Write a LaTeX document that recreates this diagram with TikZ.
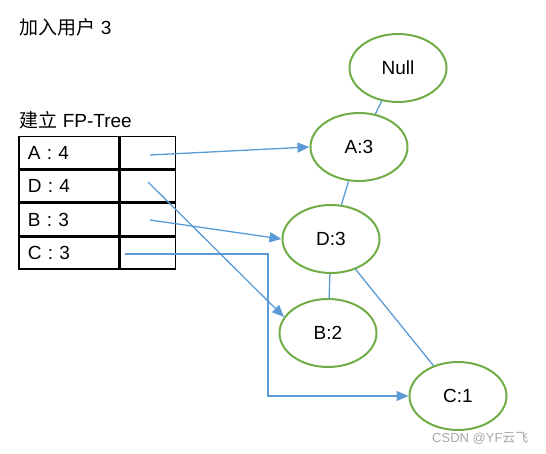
\documentclass[tikz,border=0pt]{standalone}
\usepackage{fontspec}
\setmainfont{Liberation Sans}
\newfontfamily\cjk{Noto Sans CJK SC}
\usetikzlibrary{shapes.geometric, arrows.meta, positioning}
\definecolor{treegreen}{HTML}{70AD47}
\definecolor{linkblue}{HTML}{5B9BD5}

\begin{document}
\begin{tikzpicture}[x=1pt, y=-1pt, font=\fontsize{19}{23}\selectfont,
    tree_node/.style={ellipse, draw=treegreen, line width=2pt, minimum width=97pt, minimum height=68pt, inner sep=0pt},
    cell_key/.style={draw, line width=1.5pt, minimum height=32pt, text width=82pt, inner xsep=9pt, inner ysep=0pt, align=left},
    cell_ptr/.style={draw, line width=1.5pt, minimum height=32pt, minimum width=55pt},
    link/.style={draw=linkblue, line width=1.3pt},
    ptr/.style={link, -{Triangle[length=12pt,width=10pt]}}]
				\useasboundingbox (0,0) rectangle (546,454);
				\node[anchor=west](title) at (16,27){{\cjk 加入用户} 3};
				\node[anchor=west](caption) at (16,120){{\cjk 建立} FP-Tree};
				% header table
				\node[cell_key, anchor=north west](ka) at (18,136){A : 4};
				\node[cell_key, below=0pt of ka](kd){D : 4};
				\node[cell_key, below=0pt of kd](kb){B : 3};
				\node[cell_key, below=0pt of kb](kc){C : 3};
				\node[cell_ptr, right=0pt of ka](ra){};
				\node[cell_ptr, right=0pt of kd](rd){};
				\node[cell_ptr, right=0pt of kb](rb){};
				\node[cell_ptr, right=0pt of kc](rc){};
				% tree
				\node[tree_node](null) at (398,68){Null};
				\node[tree_node](a3) at (359,147){A:3};
				\node[tree_node](d3) at (331,239){D:3};
				\node[tree_node](b2) at (328,333){B:2};
				\node[tree_node](c1) at (458,396){C:1};
				\draw[link](null) -- (a3);
				\draw[link](a3) -- (d3);
				\draw[link](d3) -- (b2);
				\draw[link](d3) -- (c1);
				% node links
				\coordinate(pa) at (150,155);
				\coordinate(pd) at (148,182);
				\coordinate(pb) at (150,220);
				\coordinate(pc) at (125,254);
				\coordinate(turn) at (268,254);
				\draw[ptr](pa) -- (a3.west);
				\draw[ptr](pd) -- (b2.160);
				\draw[ptr](pb) -- (d3.west);
				\draw[ptr](pc) -- (turn) |- (c1.west);
				\node[anchor=east, text=gray!70, font=\fontsize{13}{15}\selectfont](mark) at (532,438){CSDN @YF{\cjk 云飞}};
			\end{tikzpicture}
\end{document}
